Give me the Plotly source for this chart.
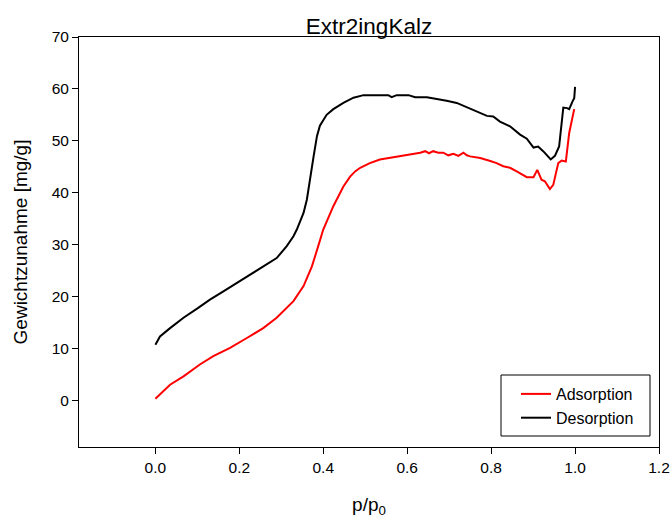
import plotly.graph_objects as go

# Adsorption (red)
ads_x = [0.0, 0.011, 0.035, 0.067, 0.106, 0.138, 0.178, 0.218, 0.257, 0.289, 0.329, 0.353, 0.373, 0.388,
         0.400, 0.424, 0.448, 0.464, 0.476, 0.488, 0.511, 0.535, 0.559, 0.583, 0.607, 0.631, 0.643, 0.652,
         0.662, 0.674, 0.686, 0.698, 0.710, 0.722, 0.734, 0.742, 0.750, 0.774, 0.798, 0.813, 0.829, 0.845,
         0.861, 0.885, 0.901, 0.910, 0.920, 0.928, 0.940, 0.948, 0.960, 0.968, 0.978, 0.986, 0.998]
ads_y = [0.3, 1.1, 3.0, 4.6, 6.9, 8.5, 10.1, 12.0, 13.9, 15.9, 19.1, 22.0, 25.8, 29.7,
         32.9, 37.4, 41.2, 43.1, 44.1, 44.8, 45.7, 46.4, 46.7, 47.0, 47.3, 47.7, 48.0, 47.6,
         48.0, 47.7, 47.7, 47.2, 47.5, 47.1, 47.7, 47.2, 47.0, 46.7, 46.1, 45.7, 45.1, 44.8,
         44.1, 43.0, 43.0, 44.4, 42.5, 42.2, 40.7, 41.5, 45.7, 46.2, 46.0, 51.5, 56.1]

# Desorption (black)
des_x = [0.0, 0.011, 0.035, 0.067, 0.102, 0.130, 0.162, 0.194, 0.233, 0.265, 0.289, 0.313, 0.329, 0.337,
         0.353, 0.361, 0.369, 0.377, 0.385, 0.392, 0.408, 0.424, 0.448, 0.472, 0.496, 0.527, 0.555, 0.563,
         0.575, 0.603, 0.619, 0.647, 0.670, 0.694, 0.718, 0.742, 0.766, 0.790, 0.805, 0.821, 0.845, 0.869,
         0.885, 0.901, 0.912, 0.924, 0.942, 0.952, 0.962, 0.972, 0.981, 0.986, 0.994, 0.998, 1.0]
des_y = [10.7, 12.3, 13.9, 15.9, 17.8, 19.4, 21.0, 22.6, 24.5, 26.1, 27.4, 29.7, 31.6, 32.9,
         36.1, 38.7, 43.2, 47.0, 50.9, 52.9, 55.0, 56.1, 57.3, 58.3, 58.8, 58.8, 58.8, 58.4,
         58.8, 58.8, 58.4, 58.4, 58.1, 57.7, 57.3, 56.5, 55.7, 54.8, 54.7, 53.7, 52.8, 51.2,
         50.4, 48.7, 48.9, 48.0, 46.4, 47.1, 48.9, 56.4, 56.3, 56.1, 57.6, 58.2, 60.4]

x_ticks = [0.0, 0.2, 0.4, 0.6, 0.8, 1.0, 1.2]
x_tick_text = ["0.0", "0.2", "0.4", "0.6", "0.8", "1.0", "1.2"]
y_ticks = [0, 10, 20, 30, 40, 50, 60, 70]

FONT = "Liberation Sans, Arial, sans-serif"
L, R, T, B = 79, 659, 37, 447
PW, PH = R - L, B - T

fig = go.Figure()
fig.add_trace(go.Scatter(x=ads_x, y=ads_y, mode="lines", name="Adsorption",
                         line=dict(color="#ff0000", width=2)))
fig.add_trace(go.Scatter(x=des_x, y=des_y, mode="lines", name="Desorption",
                         line=dict(color="#000000", width=2)))

# legend frame
fig.add_shape(type="rect", xref="paper", yref="paper",
              x0=(501 - L) / PW, x1=(650 - L) / PW,
              y0=(B - 436) / PH, y1=(B - 375) / PH,
              line=dict(color="#000000", width=1), fillcolor="white", layer="above")

fig.update_layout(
    width=671, height=518,
    margin=dict(l=L, r=671 - R, t=T, b=518 - B, autoexpand=False),
    paper_bgcolor="white", plot_bgcolor="white",
    font=dict(family=FONT, color="#000000"),
    title=dict(text="Extr2ingKalz", x=(L + R) / 2 / 671, xanchor="center",
               y=1 - 26 / 518, yanchor="middle", font=dict(size=22.5)),
    legend=dict(x=(516 - L) / PW, xanchor="left", y=(B - 406) / PH, yanchor="middle",
                borderwidth=0, bgcolor="rgba(0,0,0,0)",
                font=dict(size=16), tracegroupgap=0, itemwidth=30),
    showlegend=True,
)
fig.update_xaxes(range=[-0.182, 1.2], tickvals=x_ticks, ticktext=x_tick_text,
                 showgrid=False, zeroline=False, showline=True, linecolor="#000000",
                 linewidth=1, mirror=True, ticks="outside", ticklen=6, tickcolor="#000000",
                 tickfont=dict(size=15.5), automargin=False,
                 title=dict(text="p/p<sub>0</sub>", font=dict(size=19), standoff=24))
fig.update_yaxes(range=[-9, 70], tickvals=y_ticks,
                 showgrid=False, zeroline=False, showline=True, linecolor="#000000",
                 linewidth=1, mirror=True, ticks="outside", ticklen=6, tickcolor="#000000",
                 tickfont=dict(size=15.5), automargin=False,
                 title=dict(text="Gewichtzunahme [mg/g]", font=dict(size=19), standoff=19))

fig.write_html("out.html")
